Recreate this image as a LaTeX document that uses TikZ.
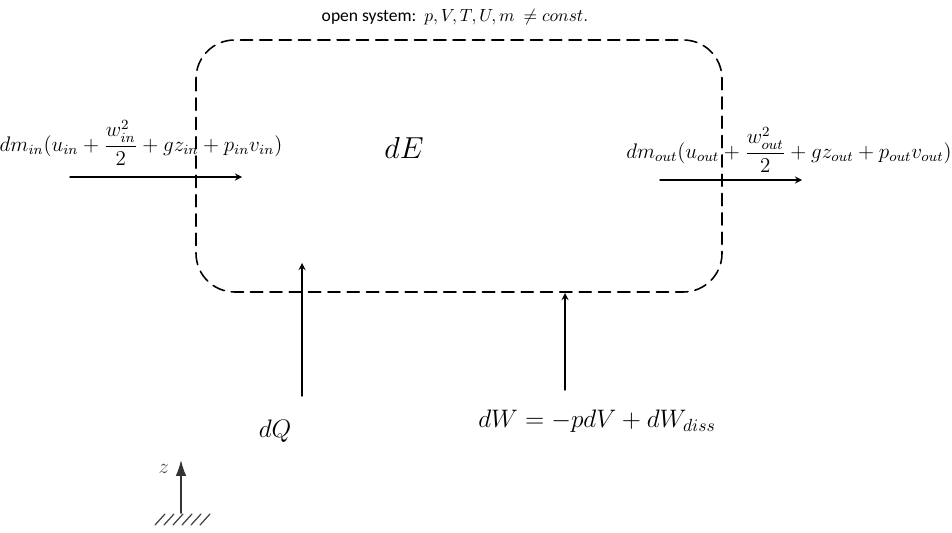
\documentclass[tikz,border=0pt]{standalone}
\usepackage{amsmath}
\usepackage{fontspec}
\usetikzlibrary{arrows.meta}
\newfontfamily\labelfont{Carlito}
\begin{document}
\begin{tikzpicture}[x=0.02cm,y=-0.02cm,>=stealth,line join=round,line cap=round,font=\large]
				\useasboundingbox (0,0) rectangle (952,533);
				\tikzset{flow/.style={->,line width=0.8pt},
					boundary/.style={line width=0.9pt,dash pattern=on 7pt off 4pt,rounded corners=22pt}}
				% control volume
				\draw[boundary] (196,40) rectangle (722,292);
				\node (title) at (455,17) {\labelfont\normalsize open system:\ \ $p,V,T,U,m\ \neq const.$};
				\node[font=\LARGE] (dE) at (404,148) {$dE$};
				% mass flows
				\path (70,177) coordinate (inA) (242,177) coordinate (inB)
					(660,180) coordinate (outA) (802,180) coordinate (outB);
				\node (lin) at (141,143) {$dm_{in}(u_{in}+\dfrac{w_{in}^2}{2}+gz_{in}+p_{in}v_{in})$};
				\node (lout) at (789,150) {$dm_{out}(u_{out}+\dfrac{w_{out}^2}{2}+gz_{out}+p_{out}v_{out})$};
				\draw[flow] (inA)--(inB);
				\draw[flow] (outA)--(outB);
				% heat and work
				\node[font=\Large] (dQ) at (275,431) {$dQ$};
				\node[font=\Large] (dW) at (597,421) {$dW=-pdV+dW_{diss}$};
				\path (302,396) coordinate (qA) (302,263) coordinate (qB)
					(565,390) coordinate (wA) (565,293) coordinate (wB);
				\draw[flow] (qA)--(qB);
				\draw[flow] (wA)--(wB);
				% height axis
				\path (181,513) coordinate (zA) (181,460) coordinate (zB);
				\draw[-{Latex[length=9pt,width=6pt]},line width=0.9pt,gray!40!black] (zA)--(zB);
				\node[gray!60!black] (z) at (164,469) {$z$};
				\foreach \x in {155,164,...,200}
				{\draw[gray!50!black,line width=0.7pt] (\x,525)--(\x+10,514);}
			\end{tikzpicture}
\end{document}
